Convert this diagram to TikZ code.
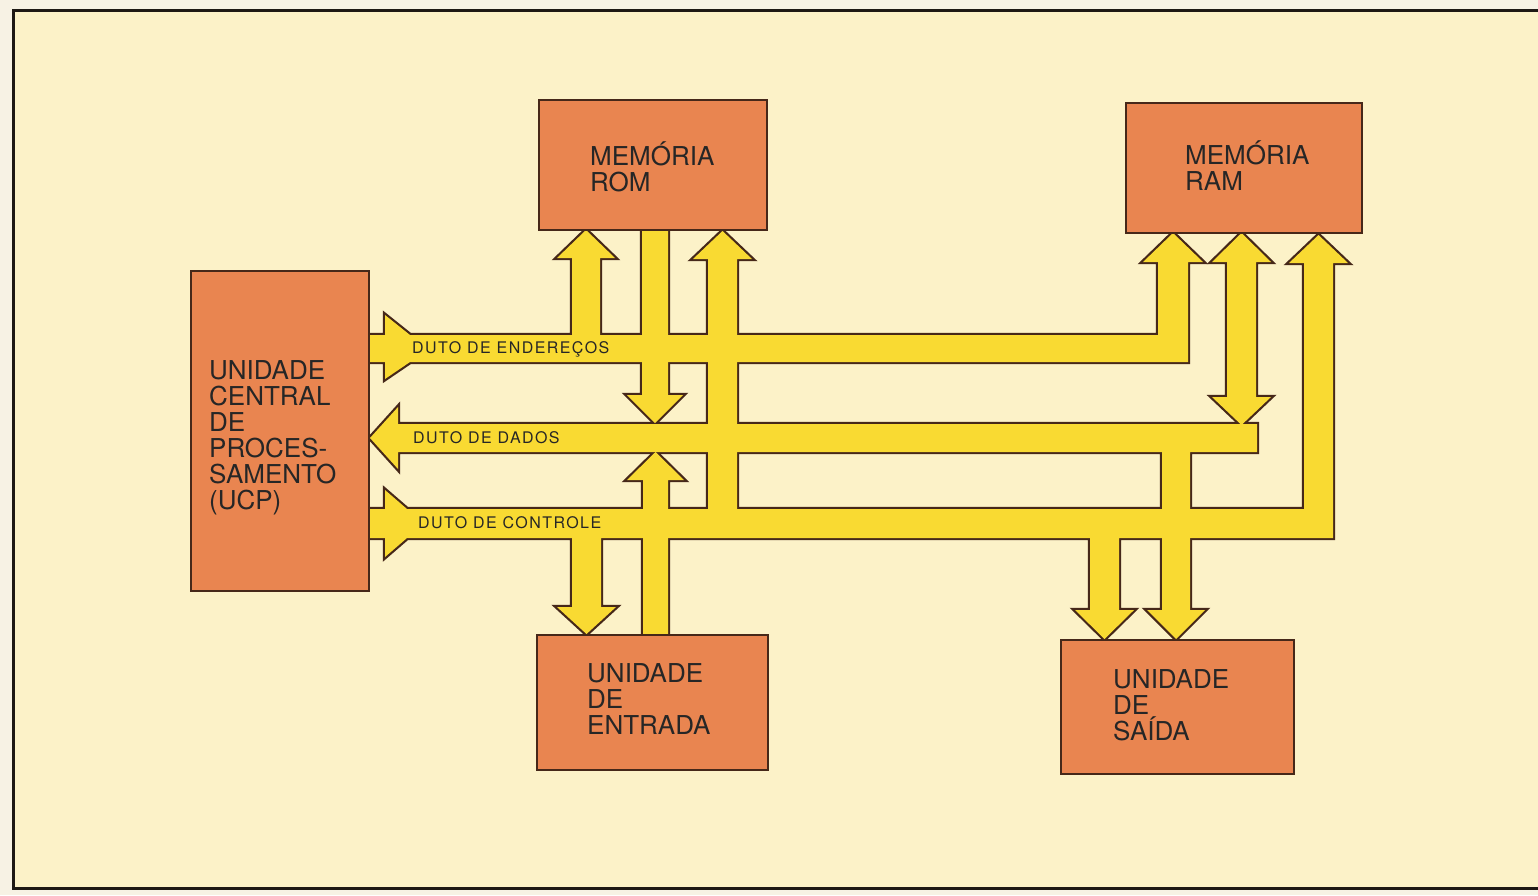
\documentclass[tikz,border=0pt]{standalone}
\usepackage{fontspec}
\setmainfont{TeX Gyre Heros}
\newfontfamily\buslabelfont[LetterSpace=9]{TeX Gyre Heros}
\definecolor{paper}{RGB}{247,242,228}
\definecolor{cream}{RGB}{252,242,200}
\definecolor{unitfill}{RGB}{233,133,80}
\definecolor{busyellow}{RGB}{249,218,50}
\definecolor{edgebrown}{RGB}{70,40,25}
\definecolor{framecol}{RGB}{30,25,20}
\newcommand\buspaths[1]{%
  % address bus
  \path[#1] (365,335) -- (385,335) -- (385,315) -- (410,335) -- (572,335) -- (572,258) -- (557,258) -- (586,230) -- (615,258) -- (600,258) -- (600,335) -- (1158,335) -- (1158,262) -- (1143,262) -- (1173,233) -- (1203,262) -- (1188,262) -- (1188,362) -- (410,362) -- (385,379) -- (385,362) -- (365,362) -- cycle;
  % ROM data down to data bus
  \path[#1] (642,225) -- (668,225) -- (668,395) -- (683,395) -- (655,423) -- (627,395) -- (642,395) -- cycle;
  % ROM control up from control bus
  \path[#1] (708,515) -- (708,259) -- (693,259) -- (722.5,231) -- (752,259) -- (737,259) -- (737,515) -- cycle;
  % data bus
  \path[#1] (370,438) -- (398,407) -- (398,424) -- (1257,424) -- (1257,452) -- (1190,452) -- (1190,610) -- (1205,610) -- (1176,639) -- (1147,610) -- (1162,610) -- (1162,452) -- (398,452) -- (398,469) -- cycle;
  % RAM data, both ways
  \path[#1] (1227,262) -- (1212,262) -- (1241.5,233) -- (1271,262) -- (1256,262) -- (1256,397) -- (1271,397) -- (1241.5,425) -- (1212,397) -- (1227,397) -- cycle;
  % control bus
  \path[#1] (365,509) -- (385,509) -- (385,490) -- (407,509) -- (1304,509) -- (1304,263) -- (1289,263) -- (1318.5,235) -- (1348,263) -- (1333,263) -- (1333,538) -- (1119,538) -- (1119,610) -- (1134,610) -- (1104.5,639) -- (1075,610) -- (1090,610) -- (1090,538) -- (601,538) -- (601,607) -- (616,607) -- (586.5,634) -- (557,607) -- (572,607) -- (572,538) -- (407,538) -- (385,557) -- (385,538) -- (365,538) -- cycle;
  % input unit data up to data bus
  \path[#1] (643,640) -- (643,480) -- (627,480) -- (655.5,452) -- (684,480) -- (668,480) -- (668,640) -- cycle;
}
\tikzset{
  unit/.style={draw=edgebrown, line width=2pt, fill=unitfill, inner sep=0pt},
  unitlabel/.style={anchor=base west, align=left, inner sep=0pt, text=black!85,
    font=\fontsize{26}{26}\selectfont},
  buslabel/.style={anchor=base west, inner sep=0pt, text=black!85,
    font=\buslabelfont\fontsize{16}{16}\selectfont},
  busedge/.style={draw=edgebrown, line width=4.4pt},
  busbody/.style={fill=busyellow},
}
\begin{document}
\begin{tikzpicture}[x=1pt,y=-1pt]
\useasboundingbox (0,0) rectangle (1538,895);
\fill[paper] (0,0) rectangle (1538,895);
\fill[cream] (13,10) rectangle (1538,888);
\draw[framecol, line width=3pt] (1538,10) -- (13,10) -- (13,888) -- (1538,888);
% buses
\buspaths{busedge}
\buspaths{busbody}
% units
\node[unit, minimum width=178pt, minimum height=320pt] (cpu) at (280,431) {};
\node[unit, minimum width=228pt, minimum height=130pt] (rom) at (653,165) {};
\node[unit, minimum width=236pt, minimum height=130pt] (ram) at (1244,168) {};
\node[unit, minimum width=231pt, minimum height=135pt] (entrada) at (652.5,702.5) {};
\node[unit, minimum width=233pt, minimum height=134pt] (saida) at (1177.5,707) {};
% unit texts (anchor = baseline of the last line)
\node[unitlabel] (cpulabel) at (209,509) {UNIDADE\\CENTRAL\\DE\\PROCES-\\SAMENTO\\(UCP)};
\node[unitlabel] (romlabel) at (590,191) {MEMÓRIA\\ROM};
\node[unitlabel] (ramlabel) at (1185,190) {MEMÓRIA\\RAM};
\node[unitlabel] (entlabel) at (587,734) {UNIDADE\\DE\\ENTRADA};
\node[unitlabel] (saidalabel) at (1113,740) {UNIDADE\\DE\\SAÍDA};
% bus labels
\node[buslabel] (addrlabel) at (412,353) {DUTO DE ENDEREÇOS};
\node[buslabel] (datalabel) at (413,443) {DUTO DE DADOS};
\node[buslabel] (ctrllabel) at (418,528) {DUTO DE CONTROLE};
\end{tikzpicture}
\end{document}
